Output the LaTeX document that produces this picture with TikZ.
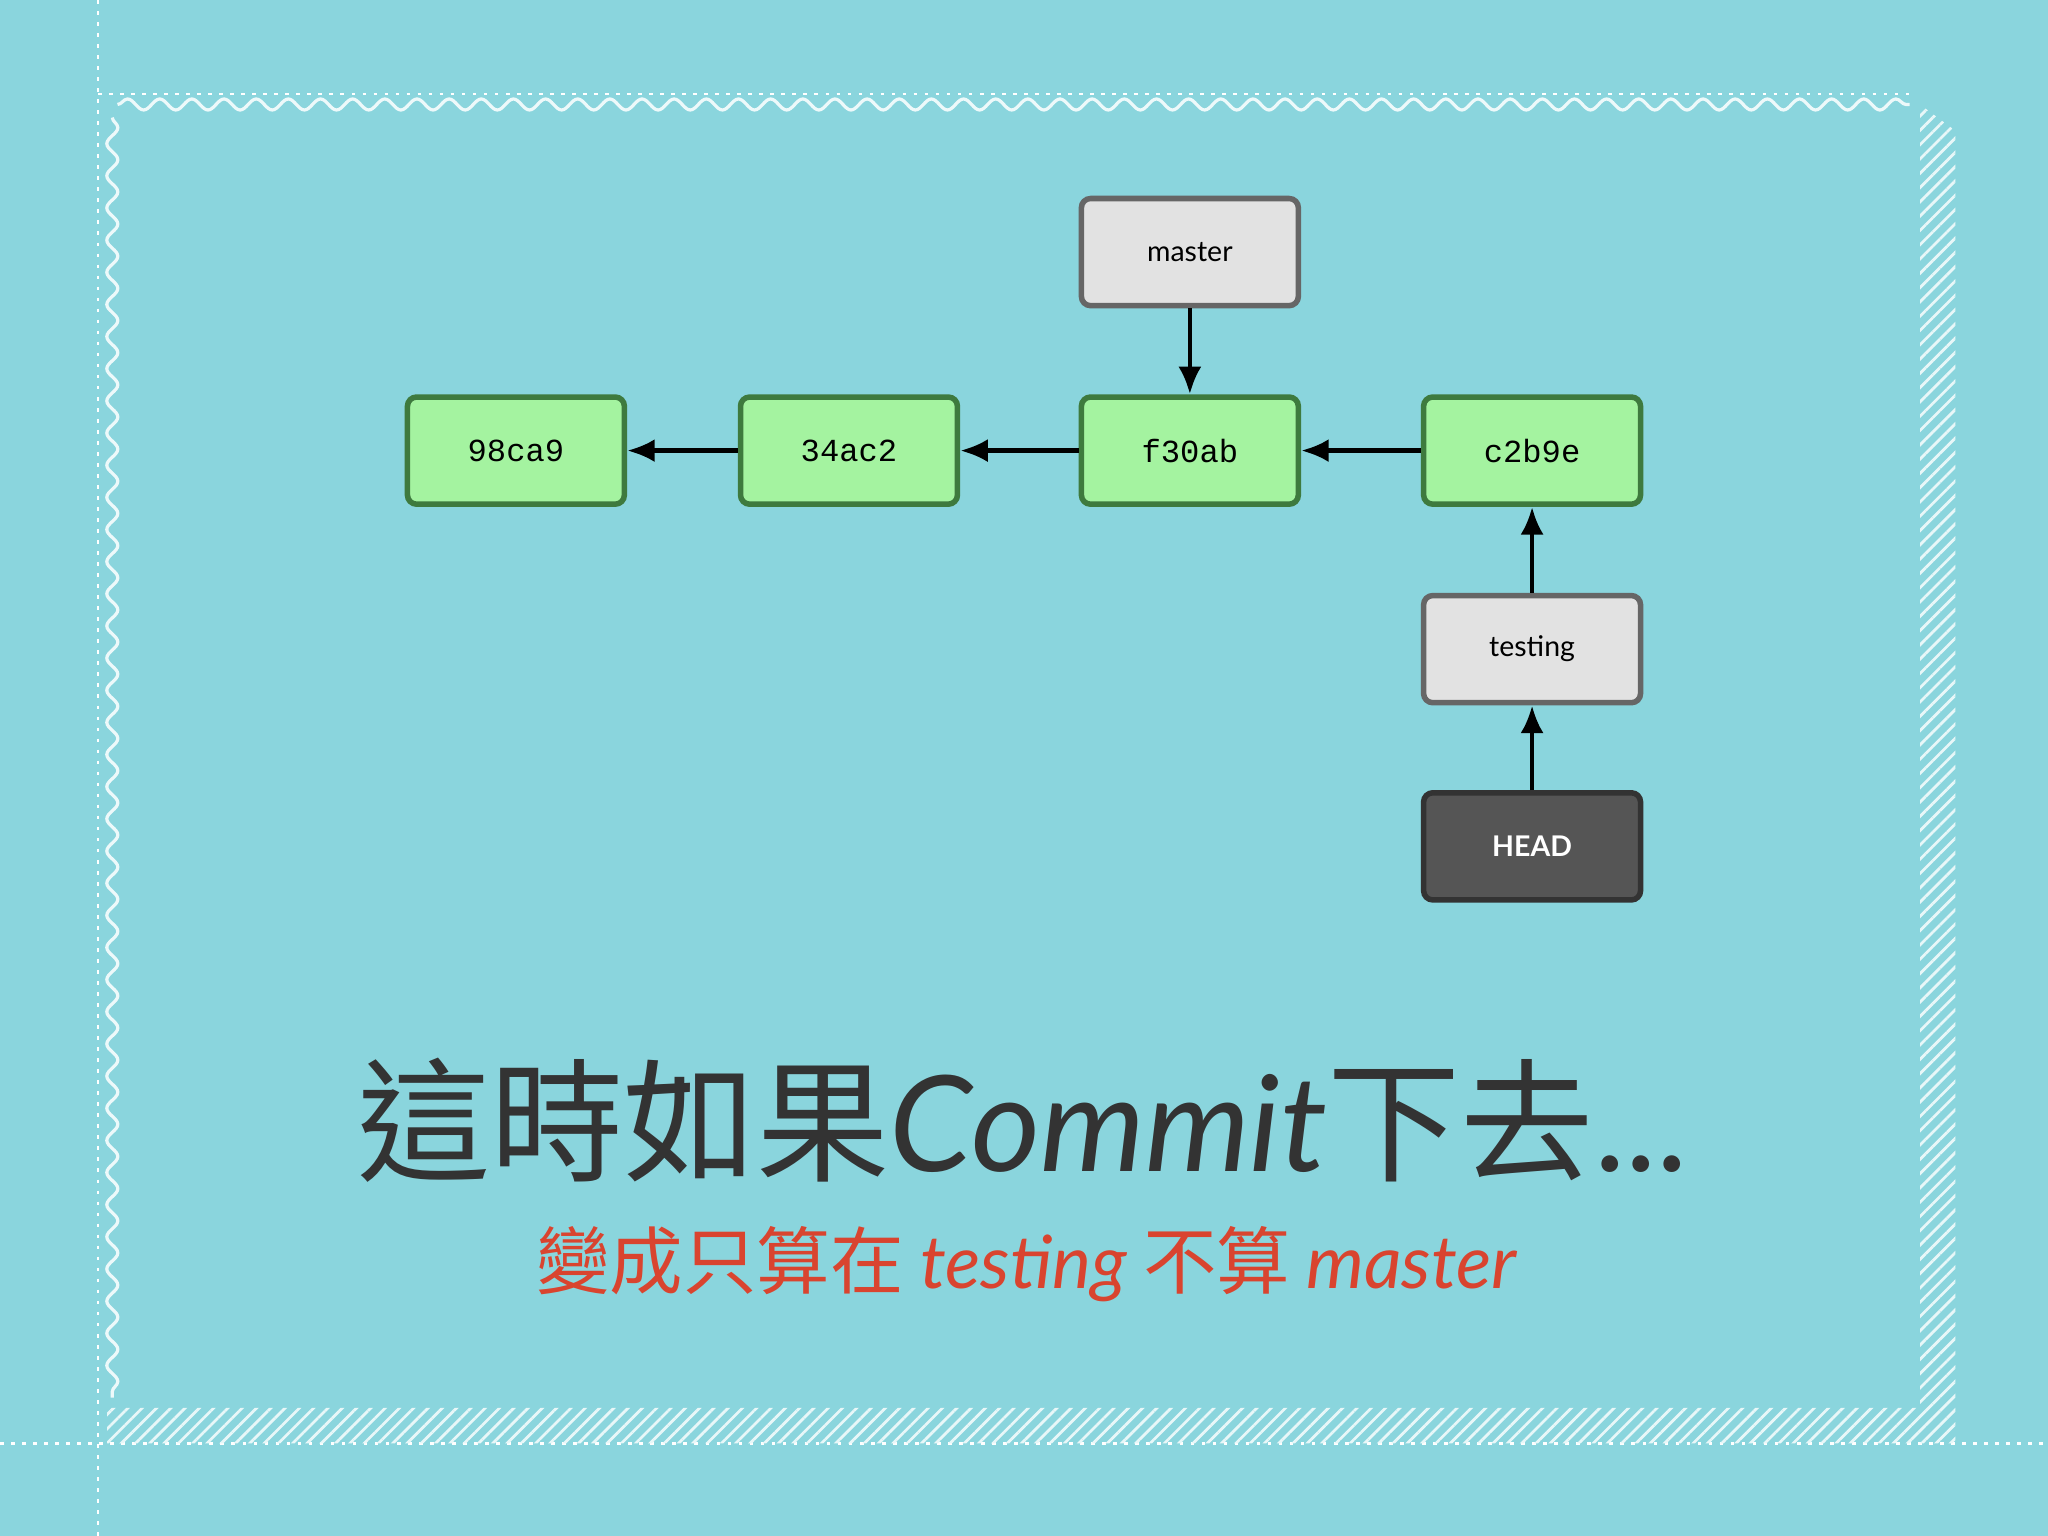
\documentclass[tikz,border=0pt]{standalone}
\usepackage{fontspec}
\setmainfont{Noto Sans CJK TC}
\newfontfamily\latf{Lato}
\newfontfamily\monof{Liberation Mono}
\usetikzlibrary{decorations.pathmorphing,patterns.meta,arrows.meta}
\definecolor{bg}{HTML}{8AD5DD}
\definecolor{cgreen}{HTML}{A4F3A0}
\definecolor{cgreenb}{HTML}{3E7A3E}
\definecolor{gbox}{HTML}{E2E2E2}
\definecolor{gboxb}{HTML}{666666}
\definecolor{dark}{HTML}{555555}
\definecolor{titlec}{HTML}{333333}
\definecolor{redc}{HTML}{D9442F}
\tikzset{
 commit/.style={draw=cgreenb,fill=cgreen,line width=1.2pt,rounded corners=2pt,minimum width=1.66cm,minimum height=0.82cm,font=\monof\fontsize{7}{9}\selectfont},
 ref/.style={draw=gboxb,fill=gbox,line width=1.2pt,rounded corners=2pt,minimum width=1.66cm,minimum height=0.82cm,font=\latf\fontsize{6.2}{8}\selectfont},
 headbox/.style={draw=black!80,fill=dark,line width=1.2pt,rounded corners=2pt,minimum width=1.66cm,minimum height=0.82cm,text=white,font=\latf\bfseries\fontsize{6.2}{8}\selectfont},
 conn/.style={-{Latex[length=6pt,width=5pt]},line width=1pt},
 dotl/.style={white,line width=0.6pt,dash pattern=on 0.8pt off 1.6pt}
}
\begin{document}
\begin{tikzpicture}[x=0.01cm,y=-0.01cm]
\fill[bg] (0,0) rectangle (1568,1176);
\useasboundingbox (0,0) rectangle (1568,1176);
% frame
\draw[dotl] (75,0) -- (75,1176);
\draw[dotl] (0,1105) -- (1568,1105);
\draw[dotl] (75,72) -- (1465,72);
\draw[white!85!bg,line width=0.7pt,decorate,decoration={snake,amplitude=1.2pt,segment length=7pt}] (90,80) -- (1462,80);
\draw[white!85!bg,line width=0.7pt,decorate,decoration={snake,amplitude=1.2pt,segment length=7pt}] (86,90) -- (86,1070);
\fill[pattern={Lines[angle=45,distance=2.2pt,line width=0.6pt]},pattern color=white!80!bg] (1470,80) -- (1497,100) -- (1497,1105) -- (82,1105) -- (82,1078) -- (1470,1078) -- cycle;
% nodes
\node[ref] (master) at (911,193) {master};
\node[commit] (c1) at (395,345) {98ca9};
\node[commit] (c2) at (650,345) {34ac2};
\node[commit] (c3) at (911,345) {f30ab};
\node[commit] (c4) at (1173,345) {c2b9e};
\node[ref] (testing) at (1173,497) {testing};
\node[headbox] (head) at (1173,648) {HEAD};
\draw[conn] (master) -- (c3);
\draw[conn] (c2) -- (c1);
\draw[conn] (c3) -- (c2);
\draw[conn] (c4) -- (c3);
\draw[conn] (testing) -- (c4);
\draw[conn] (head) -- (testing);
% text
\node[text=titlec,font=\fontsize{29}{34}\selectfont\mdseries] (title) at (783,858) {這時如果{\latf\itshape Commit}下去{\latf ...}};
\node[text=redc,font=\fontsize{16}{20}\selectfont] (sub) at (786,968) {變成只算在 {\latf\itshape testing} 不算 {\latf\itshape master}};
\end{tikzpicture}
\end{document}
